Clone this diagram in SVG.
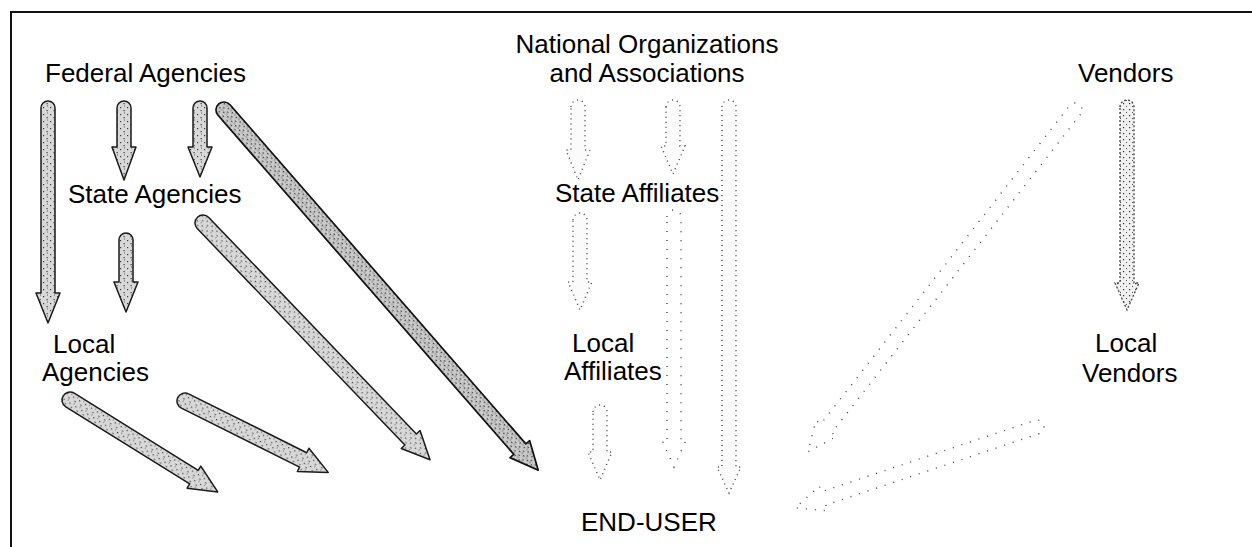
<svg xmlns="http://www.w3.org/2000/svg" width="1252" height="547" viewBox="0 0 1252 547">
<defs>
<pattern id="stip" width="7" height="7" patternUnits="userSpaceOnUse">
<rect width="7" height="7" fill="#d8d8d8"/>
<rect x="1" y="2" width="1.2" height="1.2" fill="#3a3a3a"/>
<rect x="4.5" y="5" width="1.2" height="1.2" fill="#3a3a3a"/>
<rect x="5" y="0.5" width="1" height="1" fill="#5a5a5a"/>
</pattern>
<pattern id="stipDark" width="6" height="6" patternUnits="userSpaceOnUse">
<rect width="6" height="6" fill="#cacaca"/>
<rect x="1" y="1" width="1.3" height="1.3" fill="#2a2a2a"/>
<rect x="3.5" y="4" width="1.3" height="1.3" fill="#2a2a2a"/>
<rect x="4.5" y="0.5" width="1" height="1" fill="#444"/>
</pattern>
<pattern id="stipLight" width="6" height="6" patternUnits="userSpaceOnUse">
<rect width="6" height="6" fill="#f0f0f0"/>
<rect x="1" y="1" width="1.2" height="1.2" fill="#333"/>
<rect x="4" y="4" width="1" height="1" fill="#555"/>
</pattern>
</defs>
<style>
text{font-family:"Liberation Sans",Arial,Helvetica,sans-serif;font-size:26px;fill:#000}
.solid{fill:url(#stip);stroke:#1a1a1a;stroke-width:1.5;stroke-linejoin:round}
.dark{fill:url(#stipDark);stroke:#111;stroke-width:1.7;stroke-linejoin:round}
.faint{fill:#fbfbfb;stroke:#444;stroke-width:1.4;stroke-dasharray:1 4}
.sparse{fill:none;stroke:#444;stroke-width:1.4;stroke-dasharray:1 8}
.mid{fill:url(#stipLight);stroke:#444;stroke-width:1.3;stroke-dasharray:2 2}
.frame{fill:none;stroke:#111;stroke-width:2}
</style>
<rect width="1252" height="547" fill="#fff"/>
<path class="frame" d="M11,547 L11,12 L1252,12"/>

<g id="connectors">
<path id="fed-local" class="solid" d="M41,108 A7 7 0 0 1 55,108 L55,293 L60,293 L48,323 L36,293 L41,293 Z"/>
<path id="fed-state-1" class="solid" d="M117,108 A7 7 0 0 1 131,108 L131,147 L136,147 L124,180 L112,147 L117,147 Z"/>
<path id="fed-state-2" class="solid" d="M193,108 A7 7 0 0 1 207,108 L207,147 L212,147 L200,177 L188,147 L193,147 Z"/>
<path id="state-local" class="solid" d="M119,240 A7 7 0 0 1 133,240 L133,282 L138,282 L126,312 L114,282 L119,282 Z"/>
<path id="fed-enduser" class="dark" transform="translate(224,110) rotate(48.9)" d="M0,-8 L450,-8 L450,-13 L478,0 L450,13 L450,8 L0,8 A8 8 0 0 1 0,-8 Z"/>
<path id="state-enduser" class="solid" transform="translate(203,223) rotate(46.2)" d="M0,-8 L300,-8 L300,-13 L328,0 L300,13 L300,8 L0,8 A8 8 0 0 1 0,-8 Z"/>
<path id="local-enduser-1" class="solid" transform="translate(70,400) rotate(31.9)" d="M0,-8 L146,-8 L146,-13 L174,0 L146,13 L146,8 L0,8 A8 8 0 0 1 0,-8 Z"/>
<path id="local-enduser-2" class="solid" transform="translate(185,401) rotate(26.5)" d="M0,-8 L132,-8 L132,-13 L160,0 L132,13 L132,8 L0,8 A8 8 0 0 1 0,-8 Z"/>

<path id="nat-state-1" class="faint" d="M571,107 A7 7 0 0 1 585,107 L585,150 L590,150 L578,180 L566,150 L571,150 Z"/>
<path id="nat-state-2" class="faint" d="M666,107 A7 7 0 0 1 680,107 L680,146 L685,146 L673,174 L661,146 L666,146 Z"/>
<path id="staff-localaff" class="faint" d="M573,220 A7 7 0 0 1 587,220 L587,282 L592,282 L580,310 L568,282 L573,282 Z"/>
<path id="localaff-enduser" class="faint" d="M593,412 A7 7 0 0 1 607,412 L607,452 L612,452 L600,480 L588,452 L593,452 Z"/>
<path id="staff-enduser" class="sparse" d="M667,217 A7 7 0 0 1 681,217 L681,440 L686,440 L674,467 L662,440 L667,440 Z"/>
<path id="nat-enduser" class="faint" d="M722,107 A7 7 0 0 1 736,107 L736,467 L741,467 L729,493 L717,467 L722,467 Z"/>

<path id="vend-localvend" class="mid" d="M1120,107 A7 7 0 0 1 1134,107 L1134,283 L1139,283 L1127,310 L1115,283 L1120,283 Z"/>
<path id="vend-enduser" class="sparse" transform="translate(1075,110) rotate(128)" d="M0,-7 L404,-7 L404,-13 L434,0 L404,13 L404,7 L0,7 A7 7 0 0 1 0,-7 Z"/>
<path id="localvend-enduser" class="sparse" transform="translate(1037,427) rotate(161.5)" d="M0,-7 L225,-7 L225,-13 L255,0 L225,13 L225,7 L0,7 A7 7 0 0 1 0,-7 Z"/>
</g>

<g id="federal-agencies"><text x="45" y="82">Federal Agencies</text></g>
<g id="state-agencies"><text x="68" y="203">State Agencies</text></g>
<g id="local-agencies"><text x="53" y="353">Local</text><text x="42" y="381">Agencies</text></g>
<g id="national-organizations"><text x="647" y="53" text-anchor="middle">National Organizations</text><text x="647" y="82" text-anchor="middle">and Associations</text></g>
<g id="state-affiliates"><text x="555" y="202">State Affiliates</text></g>
<g id="local-affiliates"><text x="572" y="352">Local</text><text x="564" y="380">Affiliates</text></g>
<g id="vendors"><text x="1078" y="82">Vendors</text></g>
<g id="local-vendors"><text x="1095" y="352">Local</text><text x="1082" y="382">Vendors</text></g>
<g id="end-user"><text x="581" y="531">END-USER</text></g>
</svg>
